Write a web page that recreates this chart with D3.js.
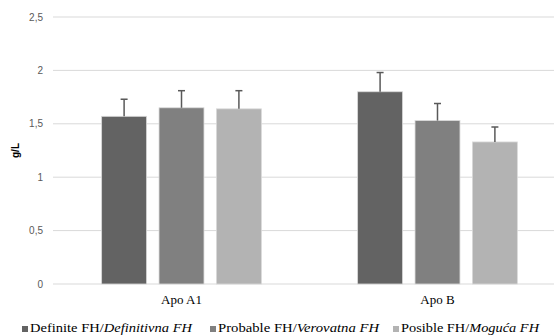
<!DOCTYPE html>
<html>
<head>
<meta charset="utf-8">
<script src="https://cdn.jsdelivr.net/npm/d3@7"></script>
<style>
    body { margin: 0; background: #fff; }
    svg { display: block; }
</style>
</head>
<body>
<svg id="chart" width="554" height="335"></svg>
<script>
const categories = ["Apo A1", "Apo B"];
const seriesNames = [
    ["Definite FH/", "Definitivna FH"],
    ["Probable FH/", "Verovatna FH"],
    ["Posible FH/", "Moguća FH"]
];
const seriesColors = ["#636363", "#808080", "#b3b3b3"];
// values per series, one per category
const values = [
    [1.57, 1.80],
    [1.65, 1.53],
    [1.64, 1.33]
];
const errors = [
    [0.16, 0.18],
    [0.16, 0.16],
    [0.17, 0.14]
];
const yTicks = [0, 0.5, 1, 1.5, 2, 2.5];

const svg = d3.select('#chart');
const margin = { left: 53, right: -12, top: 17, bottom: 51 };
const width = 554, height = 335;

const x0 = d3.scaleBand()
    .domain(categories)
    .range([margin.left, width - margin.right])
    .paddingInner(0.376)
    .paddingOuter(0.19);

const x1 = d3.scaleBand()
    .domain(d3.range(seriesNames.length))
    .range([0, x0.bandwidth()])
    .paddingInner(0.217)
    .paddingOuter(0);

const y = d3.scaleLinear()
    .domain([0, 2.5])
    .range([height - margin.bottom, margin.top]);

// gridlines
svg.append('g')
    .selectAll('line')
    .data(yTicks)
    .enter().append('line')
    .attr('x1', margin.left)
    .attr('x2', width)
    .attr('y1', d => y(d))
    .attr('y2', d => y(d))
    .attr('stroke', '#d9d9d9')
    .attr('stroke-width', 1);

// y tick labels
svg.append('g')
    .selectAll('text')
    .data(yTicks)
    .enter().append('text')
    .attr('x', 43)
    .attr('y', d => y(d))
    .attr('dy', '0.35em')
    .attr('text-anchor', 'end')
    .style('font-family', 'Liberation Sans, Arial, sans-serif')
    .style('font-size', '10px')
    .style('fill', '#595959')
    .text(d => String(d).replace('.', ','));

// y title
svg.append('text')
    .attr('transform', `translate(19,${y(1.25)}) rotate(-90)`)
    .attr('text-anchor', 'middle')
    .style('font-family', 'Liberation Sans, Arial, sans-serif')
    .style('font-size', '10px')
    .style('font-weight', 'bold')
    .style('fill', '#000')
    .text('g/L');

// bars
const groups = svg.append('g')
    .selectAll('g')
    .data(categories)
    .enter().append('g')
    .attr('transform', d => `translate(${x0(d)},0)`);

groups.each(function(cat, ci) {
    const grp = d3.select(this);
    seriesNames.forEach((s, si) => {
        const v = values[si][ci];
        const e = errors[si][ci];
        const bx = x1(si);
        grp.append('rect')
            .attr('x', bx)
            .attr('y', y(v))
            .attr('width', x1.bandwidth())
            .attr('height', y(0) - y(v))
            .attr('fill', seriesColors[si])
            .attr('stroke', '#d9d9d9')
            .attr('stroke-width', 0.8);
        const cx = bx + x1.bandwidth() / 2;
        grp.append('line')
            .attr('x1', cx).attr('x2', cx)
            .attr('y1', y(v)).attr('y2', y(v + e))
            .attr('stroke', '#595959')
            .attr('stroke-width', 1.5);
        grp.append('line')
            .attr('x1', cx - 3.5).attr('x2', cx + 3.5)
            .attr('y1', y(v + e)).attr('y2', y(v + e))
            .attr('stroke', '#595959')
            .attr('stroke-width', 1.5);
    });
});

// category labels
svg.append('g')
    .selectAll('text')
    .data(categories)
    .enter().append('text')
    .attr('x', d => x0(d) + x0.bandwidth() / 2)
    .attr('y', 304)
    .attr('text-anchor', 'middle')
    .style('font-family', 'Liberation Serif, Times New Roman, serif')
    .style('font-size', '13px')
    .style('fill', '#000')
    .text(d => d);

// legend
const legendX = [22, 210, 393];
const legendLen = [162, 161, 138];
const legend = svg.append('g')
    .selectAll('g')
    .data(seriesNames)
    .enter().append('g')
    .attr('transform', (d, i) => `translate(${legendX[i]},332)`);

legend.append('rect')
    .attr('x', 0)
    .attr('y', -6)
    .attr('width', 6)
    .attr('height', 6)
    .attr('fill', (d, i) => seriesColors[i]);

const lt = legend.append('text')
    .attr('x', 8)
    .attr('y', 0)
    .attr('textLength', (d, i) => legendLen[i])
    .attr('lengthAdjust', 'spacingAndGlyphs')
    .style('font-family', 'Liberation Serif, Times New Roman, serif')
    .style('font-size', '13.5px')
    .style('fill', '#000');
lt.append('tspan').text(d => d[0]);
lt.append('tspan').style('font-style', 'italic').text(d => d[1]);
</script>
</body>
</html>
